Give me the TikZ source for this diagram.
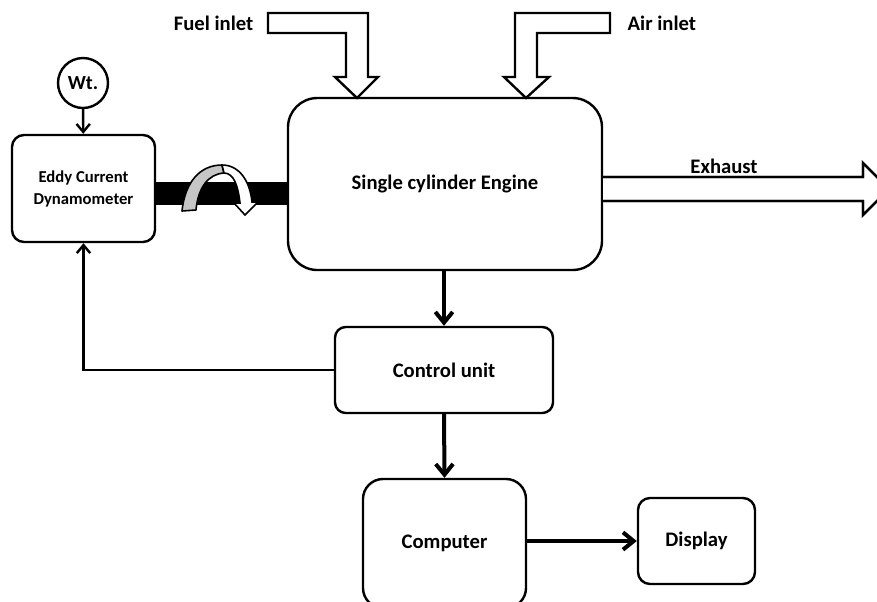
\documentclass[tikz,border=0pt]{standalone}
\usepackage{fontspec}
\setmainfont{Carlito}
\usetikzlibrary{arrows.meta}
\begin{document}
\begin{tikzpicture}[x=0.75pt,y=-0.75pt,
  big/.style={font=\fontsize{15.5}{18}\selectfont\bfseries},
  box/.style={draw, line width=1.8pt, inner sep=0pt, align=center, big},
  thickarrow/.style={line width=3pt, -{Straight Barb[length=8pt,width=13pt]}},
  thinarrow/.style={line width=1.8pt, -{Straight Barb[length=6pt,width=10pt]}},
  hollow/.style={draw, line width=1.8pt, fill=white, line join=miter}]
\clip (0,0) rectangle (877,601);
% boxes
\node[box, rounded corners=9pt, minimum width=107.25pt, minimum height=80.25pt,
      font=\fontsize{12.5}{16.5}\selectfont\bfseries] (dyn) at (83.5,188.5) {Eddy Current\\Dynamometer};
\node[box, rounded corners=22pt, minimum width=235.5pt, minimum height=129pt] (engine) at (445,184) {Single cylinder Engine};
\node[box, rounded corners=8pt, minimum width=163.5pt, minimum height=64.5pt] (ctrl) at (444,370) {Control unit};
\node[box, rounded corners=15pt, minimum width=122.25pt, minimum height=96.75pt] (comp) at (444.5,543.5) {Computer};
\node[box, rounded corners=9pt, minimum width=87.75pt, minimum height=64.5pt] (disp) at (696.5,541) {Display};
\node[draw, circle, line width=1.8pt, minimum size=37.5pt, inner sep=0pt, font=\fontsize{15}{18}\selectfont\bfseries] (wt) at (83,83) {Wt.};
% labels
\node[big, anchor=east] (fuel) at (258,23) {Fuel inlet};
\node[big, anchor=west] (air) at (623,23) {Air inlet};
\node[big] (exh) at (724,166) {Exhaust};
% connectors
\draw[thinarrow] (wt) -- (dyn);
\draw[thickarrow] (engine.south -| ctrl.north) -- (ctrl.north);
\draw[thickarrow] (ctrl.south) -- (comp.north);
\draw[thickarrow] (comp.east |- disp.west) -- (disp.west);
\draw[thinarrow] (ctrl.west) -| (dyn.south);
% shaft
\fill (dyn.east |- 0,182) rectangle (engine.west |- 0,205);
% rotation arrow
\draw[line width=1.2pt, fill=gray!45, line join=round]
  (182,211) .. controls (185,182) and (200,165) .. (222,165) -- (224,173)
  .. controls (208,174) and (198,188) .. (196,210) -- cycle;
\draw[line width=1.2pt, fill=white, line join=miter]
  (222,165) .. controls (240,165) and (250,182) .. (252,202) -- (258,202) -- (245,215) -- (234,203) -- (240,203)
  .. controls (238,186) and (234,173) .. (224,173) -- cycle;
% inlet arrows
\path[hollow] (268,13) -- (368,13) -- (368,77) -- (378,77) -- (357,98) -- (335,77) -- (346,77) -- (346,33) -- (268,33) -- cycle;
\path[hollow] (610,13) -- (515,13) -- (515,77) -- (504,77) -- (526,98) -- (549,77) -- (537,77) -- (537,33) -- (610,33) -- cycle;
% exhaust arrow
\path[hollow] (603,177) -- (863,177) -- (863,163) -- (889,189) -- (863,215) -- (863,201) -- (603,201);
\draw[line width=1.8pt, line join=miter] (603,177) -- (863,177) -- (863,163) -- (889,189) -- (863,215) -- (863,201) -- (603,201);
\end{tikzpicture}
\end{document}
